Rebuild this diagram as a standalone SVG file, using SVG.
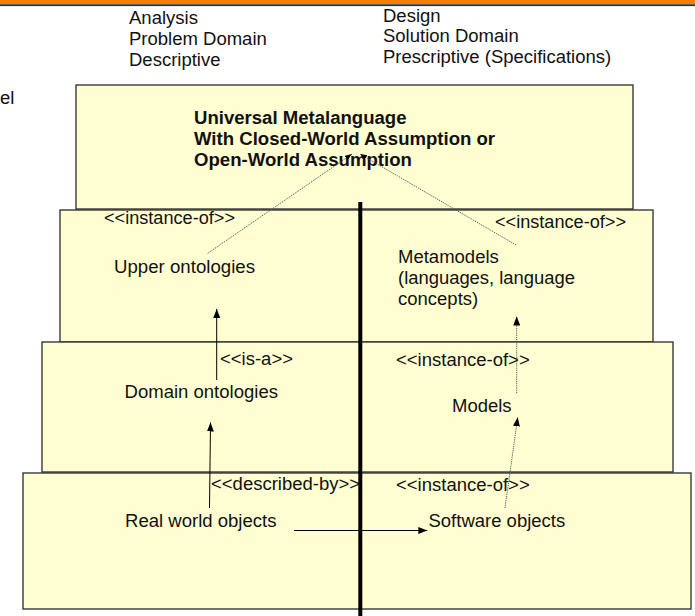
<svg xmlns="http://www.w3.org/2000/svg" width="695" height="616" viewBox="0 0 695 616">
  <style>
    .lbl { font-family: "Liberation Sans", Arial, sans-serif; font-size: 17.5px; fill: #111; }
    .bold { font-weight: bold; }
    .layer { fill: #FFFFD2; stroke: #2a2a2a; stroke-width: 1.3; }
    .solid { stroke: #000; stroke-width: 1; fill: none; }
    .dotted { stroke: #555; stroke-width: 1; stroke-dasharray: 1.2 1; fill: none; }
  </style>
  <defs>
    <marker id="head" markerUnits="userSpaceOnUse" markerWidth="10" markerHeight="8" refX="9" refY="3.5" orient="auto">
      <path d="M0,0 L9,3.5 L0,7 z" fill="#000"/>
    </marker>
    <marker id="headSmall" markerUnits="userSpaceOnUse" markerWidth="8" markerHeight="6" refX="7" refY="2.5" orient="auto">
      <path d="M0,0 L7,2.5 L0,5 z" fill="#000"/>
    </marker>
  </defs>

  <rect width="695" height="616" fill="#fff"/>

  <!-- header band -->
  <rect x="0" y="0" width="695" height="4.3" fill="#F77F00"/>
  <rect x="0" y="4.3" width="695" height="1.8" fill="#2B2D40"/>

  <!-- left edge fragment -->
  <text class="lbl" x="0" y="104" textLength="14.4" lengthAdjust="spacingAndGlyphs">el</text>

  <!-- column headings -->
  <g id="analysis-heading">
    <text class="lbl" x="129" y="24" textLength="68.9" lengthAdjust="spacingAndGlyphs">Analysis</text>
    <text class="lbl" x="129" y="45" textLength="137.8" lengthAdjust="spacingAndGlyphs">Problem Domain</text>
    <text class="lbl" x="129" y="66" textLength="91.5" lengthAdjust="spacingAndGlyphs">Descriptive</text>
  </g>
  <g id="design-heading">
    <text class="lbl" x="383" y="22" textLength="57.6" lengthAdjust="spacingAndGlyphs">Design</text>
    <text class="lbl" x="383" y="42" textLength="135.7" lengthAdjust="spacingAndGlyphs">Solution Domain</text>
    <text class="lbl" x="383" y="63" textLength="228.2" lengthAdjust="spacingAndGlyphs">Prescriptive (Specifications)</text>
  </g>

  <!-- layered boxes, top to bottom -->
  <g id="metalanguage">
    <rect class="layer" x="76" y="85" width="557" height="124"/>
    <text class="lbl bold" x="194" y="124" textLength="212.5" lengthAdjust="spacingAndGlyphs">Universal Metalanguage</text>
    <text class="lbl bold" x="194" y="145" textLength="301.1" lengthAdjust="spacingAndGlyphs">With Closed-World Assumption or</text>
    <text class="lbl bold" x="194" y="166" textLength="217.9" lengthAdjust="spacingAndGlyphs">Open-World Assumption</text>
  </g>

  <g id="meta-layer">
    <rect class="layer" x="60" y="210" width="593" height="132"/>
    <text class="lbl" x="104" y="224" textLength="131" lengthAdjust="spacingAndGlyphs">&lt;&lt;instance-of&gt;&gt;</text>
    <text class="lbl" x="495" y="228" textLength="131" lengthAdjust="spacingAndGlyphs">&lt;&lt;instance-of&gt;&gt;</text>
  </g>
  <g id="upper-ontologies">
    <text class="lbl" x="114" y="273" textLength="141" lengthAdjust="spacingAndGlyphs">Upper ontologies</text>
  </g>
  <g id="metamodels">
    <text class="lbl" x="398" y="263" textLength="100.8" lengthAdjust="spacingAndGlyphs">Metamodels</text>
    <text class="lbl" x="398" y="284" textLength="177" lengthAdjust="spacingAndGlyphs">(languages, language</text>
    <text class="lbl" x="398" y="305" textLength="80.2" lengthAdjust="spacingAndGlyphs">concepts)</text>
  </g>

  <g id="model-layer">
    <rect class="layer" x="42" y="342" width="631" height="130"/>
    <text class="lbl" x="220" y="365" textLength="73" lengthAdjust="spacingAndGlyphs">&lt;&lt;is-a&gt;&gt;</text>
    <text class="lbl" x="396" y="366" textLength="133.7" lengthAdjust="spacingAndGlyphs">&lt;&lt;instance-of&gt;&gt;</text>
  </g>
  <g id="domain-ontologies">
    <text class="lbl" x="124.5" y="398" textLength="153.5" lengthAdjust="spacingAndGlyphs">Domain ontologies</text>
  </g>
  <g id="models">
    <text class="lbl" x="452" y="412" textLength="59.6" lengthAdjust="spacingAndGlyphs">Models</text>
  </g>

  <g id="object-layer">
    <rect class="layer" x="23" y="473" width="668" height="136"/>
    <text class="lbl" x="211" y="490" textLength="149.1" lengthAdjust="spacingAndGlyphs">&lt;&lt;described-by&gt;&gt;</text>
    <text class="lbl" x="396" y="491" textLength="133.7" lengthAdjust="spacingAndGlyphs">&lt;&lt;instance-of&gt;&gt;</text>
  </g>
  <g id="real-world-objects">
    <text class="lbl" x="125" y="527" textLength="151.5" lengthAdjust="spacingAndGlyphs">Real world objects</text>
  </g>
  <g id="software-objects">
    <text class="lbl" x="428.5" y="527" textLength="136.7" lengthAdjust="spacingAndGlyphs">Software objects</text>
  </g>

  <!-- divider between analysis and design -->
  <line x1="360.3" y1="202" x2="360.3" y2="616" stroke="#000" stroke-width="4"/>

  <!-- connectors -->
  <g id="connectors">
    <line class="dotted" x1="207.7" y1="253.3" x2="352" y2="154" marker-end="url(#headSmall)"/>
    <line class="dotted" x1="516" y1="245" x2="360" y2="154" marker-end="url(#headSmall)"/>
    <line class="solid" x1="216.7" y1="380" x2="216.7" y2="309" marker-end="url(#head)"/>
    <line class="dotted" x1="516.7" y1="393" x2="516.7" y2="316.5" marker-end="url(#head)"/>
    <line class="solid" x1="209.5" y1="508" x2="210.5" y2="422.5" marker-end="url(#head)"/>
    <line class="dotted" x1="505" y1="508" x2="517.7" y2="417.3" marker-end="url(#head)"/>
    <line class="solid" x1="294" y1="530.5" x2="427.3" y2="530.5" marker-end="url(#head)"/>
  </g>
</svg>
